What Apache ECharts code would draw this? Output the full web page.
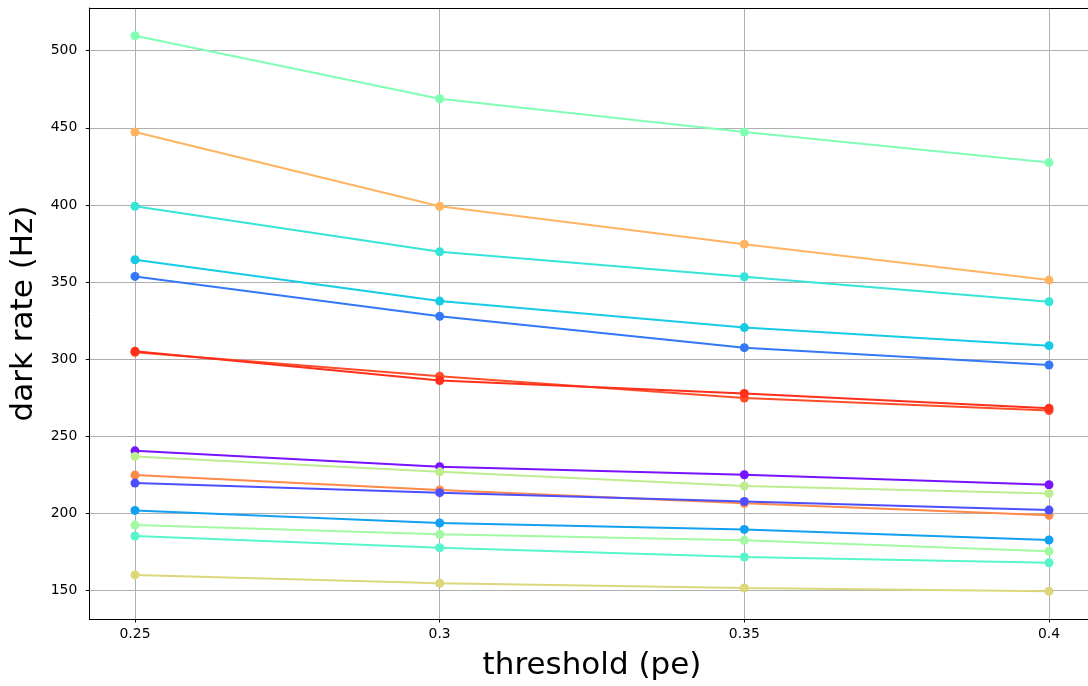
<!DOCTYPE html>
<html>
<head>
<meta charset="utf-8">
<style>
  html, body { margin: 0; padding: 0; background: #ffffff; overflow: hidden; }
  #chart { width: 1096px; height: 686px; }
</style>
<script src="https://cdn.jsdelivr.net/npm/echarts@6/dist/echarts.min.js"></script>
</head>
<body>
<div id="chart"></div>
<script>
// Threshold settings (pe) on the x axis
const thresholds = [0.25, 0.3, 0.35, 0.4];

// Tick positions
const xTicks = [0.25, 0.3, 0.35, 0.4];
const yTicks = [150, 200, 250, 300, 350, 400, 450, 500];

// Dark rate (Hz) per channel, one array per channel
const ch01 = [509.7, 468.9, 447.3, 427.5];
const ch02 = [447.3, 399.2, 374.6, 351.3];
const ch03 = [399.2, 369.7, 353.5, 337.3];
const ch04 = [364.5, 337.7, 320.5, 308.8];
const ch05 = [353.7, 327.8, 307.5, 296.3];
const ch06 = [304.5, 289.0, 274.9, 266.8];
const ch07 = [305.2, 286.2, 277.8, 268.2];
const ch08 = [240.6, 230.3, 225.1, 218.6];
const ch09 = [237.0, 227.0, 217.8, 213.0];
const ch10 = [224.9, 215.2, 206.6, 198.8];
const ch11 = [219.7, 213.5, 207.8, 202.2];
const ch12 = [202.0, 193.8, 189.7, 182.8];
const ch13 = [192.5, 186.5, 182.6, 175.5];
const ch14 = [185.4, 177.8, 171.8, 168.1];
const ch15 = [160.2, 154.8, 151.7, 149.6];

const channels = [ch01, ch02, ch03, ch04, ch05, ch06, ch07, ch08, ch09, ch10, ch11, ch12, ch13, ch14, ch15];

// Line colours (rainbow colormap samples)
const colors = [
  '#80ffb4', '#ffb462', '#37e4d8', '#16cbe4', '#3478f7',
  '#ff4d2a', '#ff2f1a', '#7812ff', '#bded8f', '#ff8947',
  '#4d4ffc', '#12a0f0', '#a2f9a2', '#56f6ca', '#dbd77b'
];

const FONT = 'DejaVu Sans';

const series = channels.map((vals, i) => ({
  type: 'line',
  xAxisIndex: 0,
  data: thresholds.map((t, j) => [t, vals[j]]),
  symbol: 'circle',
  symbolSize: 9,
  showSymbol: true,
  lineStyle: { width: 2, color: colors[i] },
  itemStyle: { color: colors[i] },
  emphasis: { disabled: true },
  z: 2 + i
}));

// The plot box runs slightly past the right edge of the window,
// so the chart canvas is a little wider than the viewport.
const chart = echarts.init(document.getElementById('chart'), null, { renderer: 'canvas' });
chart.setOption({
  animation: false,
  backgroundColor: '#ffffff',
  grid: {
    left: 89.3,
    top: 8,
    width: 1005.4,
    height: 612,
    show: false
  },
  xAxis: [{
    type: 'value',
    min: 0.2425,
    max: 0.4075,
    name: 'threshold (pe)',
    nameLocation: 'middle',
    nameGap: 31,
    nameTextStyle: { fontFamily: FONT, fontSize: 31, color: '#000000' },
    axisLine: { show: true, lineStyle: { color: '#000000', width: 1 } },
    axisTick: { show: true, length: 3.5, inside: false, customValues: xTicks, lineStyle: { color: '#000000', width: 1 } },
    axisLabel: {
      show: true, customValues: xTicks, margin: 8,
      fontFamily: FONT, fontSize: 13.9, color: '#000000',
      formatter: v => String(v)
    },
    splitLine: { show: true, lineStyle: { color: '#b0b0b0', width: 1 } }
  }, {
    // top frame line of the plot box
    type: 'value',
    position: 'top',
    min: 0.2425,
    max: 0.4075,
    axisLine: { show: true, onZero: false, lineStyle: { color: '#000000', width: 1 } },
    axisTick: { show: false },
    axisLabel: { show: false },
    splitLine: { show: false }
  }],
  yAxis: {
    type: 'value',
    min: 131.6,
    max: 527.7,
    name: 'dark rate (Hz)',
    nameLocation: 'middle',
    nameGap: 44,
    nameTextStyle: { fontFamily: FONT, fontSize: 31, color: '#000000' },
    axisLine: { show: true, onZero: false, lineStyle: { color: '#000000', width: 1 } },
    axisTick: { show: true, length: 3.5, inside: false, customValues: yTicks, lineStyle: { color: '#000000', width: 1 } },
    axisLabel: {
      show: true, customValues: yTicks, margin: 12,
      fontFamily: FONT, fontSize: 13.9, color: '#000000'
    },
    splitLine: { show: true, lineStyle: { color: '#b0b0b0', width: 1 } }
  },
  series: series
});
</script>
</body>
</html>
